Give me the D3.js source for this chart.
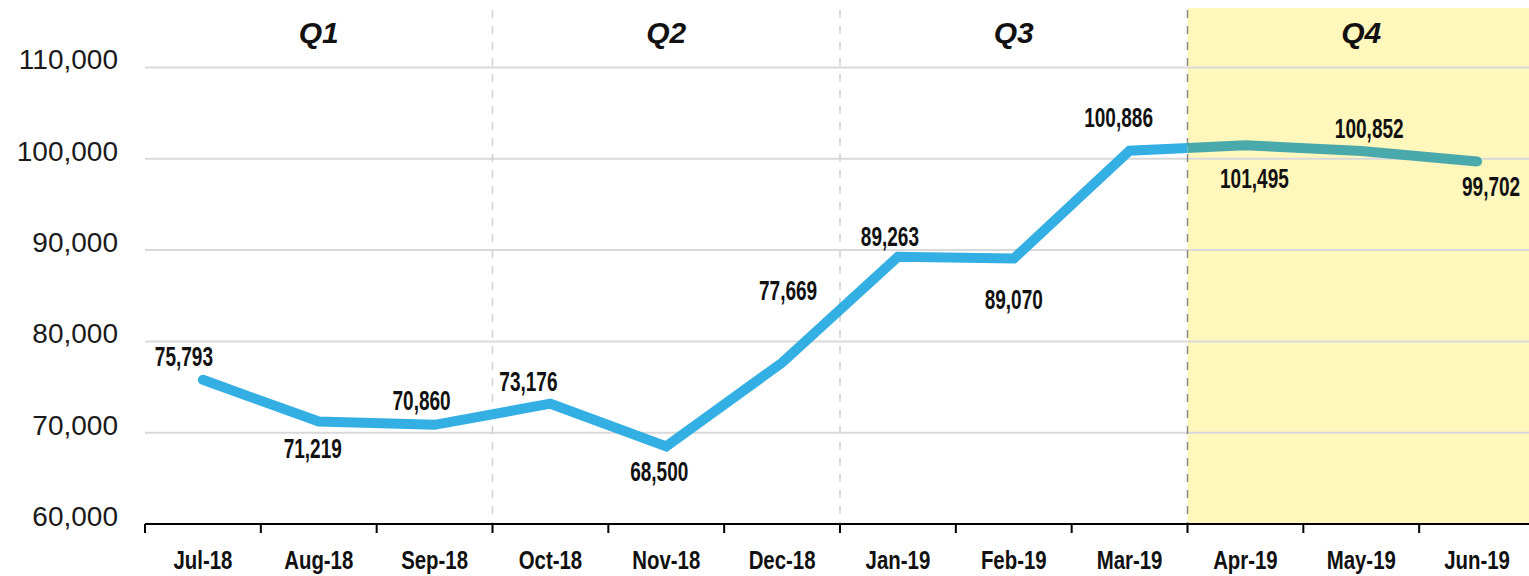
<!DOCTYPE html>
<html>
<head>
<meta charset="utf-8">
<script src="https://cdn.jsdelivr.net/npm/d3@7"></script>
<style>
  html, body { margin: 0; padding: 0; background: #fff; }
  svg { display: block; }
</style>
</head>
<body>
<div id="chart"></div>
<script>
// chart data
const months = ['Jul-18', 'Aug-18', 'Sep-18', 'Oct-18', 'Nov-18', 'Dec-18',
                'Jan-19', 'Feb-19', 'Mar-19', 'Apr-19', 'May-19', 'Jun-19']
const values = [75793, 71219, 70860, 73176, 68500, 77669,
                89263, 89070, 100886, 101495, 100852, 99702]
const quarters = ['Q1', 'Q2', 'Q3', 'Q4']
const yTicks = [60000, 70000, 80000, 90000, 100000, 110000]

// label nudges (layout only), [dx, dy] from the point
const labelOffsets = [[-19, -24], [-6, 26], [-13, -25], [-22, -23], [-7, 25], [6, -73],
                      [-8, -21], [0, 40], [-11, -34], [9, 33], [8, -23], [14, 24]]

const width = 1529
const height = 576
const plot = { left: 145, right: 1535, top: 8, bottom: 524 }

const svg = d3.select('#chart').append('svg')
  .attr('width', width)
  .attr('height', height)

const x = d3.scaleBand().domain(months).range([plot.left, plot.right]).padding(0)
const y = d3.scaleLinear().domain([60000, 110000]).range([plot.bottom, 67.5])
const fmt = d3.format(',')

// Q4 highlight
const q4x = x(months[9])
svg.append('rect')
  .attr('x', q4x)
  .attr('y', plot.top)
  .attr('width', width - q4x)
  .attr('height', plot.bottom - plot.top)
  .attr('fill', '#fff7bc')

// gridlines
svg.append('g')
  .selectAll('line')
  .data(yTicks.slice(1))
  .join('line')
  .attr('x1', plot.left).attr('x2', width)
  .attr('y1', d => y(d)).attr('y2', d => y(d))
  .attr('stroke', '#d9d9d9')
  .attr('stroke-width', 2)

// quarter separators
svg.append('g')
  .selectAll('line')
  .data([3, 6, 9])
  .join('line')
  .attr('x1', i => x(months[i])).attr('x2', i => x(months[i]))
  .attr('y1', 10).attr('y2', plot.bottom)
  .attr('stroke', i => i === 9 ? '#8a8a8a' : '#cfcfcf')
  .attr('stroke-width', 1.5)
  .attr('stroke-dasharray', '8,8')

// quarter titles
svg.append('g')
  .selectAll('text')
  .data(quarters)
  .join('text')
  .attr('x', (d, i) => (x(months[i * 3]) + x(months[i * 3 + 2]) + x.bandwidth()) / 2)
  .attr('y', 43)
  .attr('text-anchor', 'middle')
  .attr('font-family', 'Liberation Sans, Arial, sans-serif')
  .attr('font-weight', 'bold')
  .attr('font-style', 'italic')
  .attr('font-size', 30)
  .attr('fill', '#111')
  .text(d => d)

// the line, split at the Q4 boundary
const pts = values.map((v, i) => [x(months[i]) + x.bandwidth() / 2, y(v)])
const lineGen = d3.line()

const defs = svg.append('defs')
defs.append('clipPath').attr('id', 'clipA')
  .append('rect').attr('x', 0).attr('y', 0).attr('width', q4x).attr('height', height)
defs.append('clipPath').attr('id', 'clipB')
  .append('rect').attr('x', q4x).attr('y', 0).attr('width', width - q4x).attr('height', height)

;[['clipA', '#29abe2'], ['clipB', '#40a4aa']].forEach(([clip, color]) => {
  svg.append('path')
    .attr('d', lineGen(pts))
    .attr('clip-path', `url(#${clip})`)
    .attr('fill', 'none')
    .attr('stroke', color)
    .attr('stroke-width', 10)
    .attr('stroke-linejoin', 'miter')
    .attr('stroke-linecap', 'round')
    .attr('opacity', 0.95)
})

// condensed bold text: Arial-like face squeezed horizontally
const narrowFont = 'Liberation Sans, Arial, sans-serif'

// data labels
svg.append('g')
  .selectAll('text')
  .data(values)
  .join('text')
  .attr('transform', (d, i) =>
    `translate(${pts[i][0] + labelOffsets[i][0]},${pts[i][1] + labelOffsets[i][1]}) scale(0.68,1)`)
  .attr('dy', '0.36em')
  .attr('text-anchor', 'middle')
  .attr('font-family', narrowFont)
  .attr('font-weight', 'bold')
  .attr('font-size', 28)
  .attr('fill', '#111')
  .text(d => fmt(d))

// y axis labels
svg.append('g')
  .selectAll('text')
  .data(yTicks)
  .join('text')
  .attr('x', 118)
  .attr('y', d => y(d) - 8)
  .attr('dy', '0.35em')
  .attr('text-anchor', 'end')
  .attr('font-family', 'Liberation Sans, Arial, sans-serif')
  .attr('font-size', 28)
  .attr('fill', '#1a1a1a')
  .text(d => fmt(d))

// x axis
const xAxis = svg.append('g')
  .attr('transform', `translate(0,${plot.bottom})`)

xAxis.append('line')
  .attr('x1', plot.left).attr('x2', width)
  .attr('stroke', '#000')
  .attr('stroke-width', 2)

xAxis.selectAll('line.tick')
  .data(months)
  .join('line')
  .attr('class', 'tick')
  .attr('x1', d => x(d)).attr('x2', d => x(d))
  .attr('y1', 0).attr('y2', 9)
  .attr('stroke', '#000')
  .attr('stroke-width', 2)

xAxis.selectAll('text')
  .data(months)
  .join('text')
  .attr('transform', d => `translate(${x(d) + x.bandwidth() / 2},45) scale(0.8,1)`)
  .attr('text-anchor', 'middle')
  .attr('font-family', narrowFont)
  .attr('font-weight', 'bold')
  .attr('font-size', 25.5)
  .attr('fill', '#111')
  .text(d => d)
</script>
</body>
</html>
